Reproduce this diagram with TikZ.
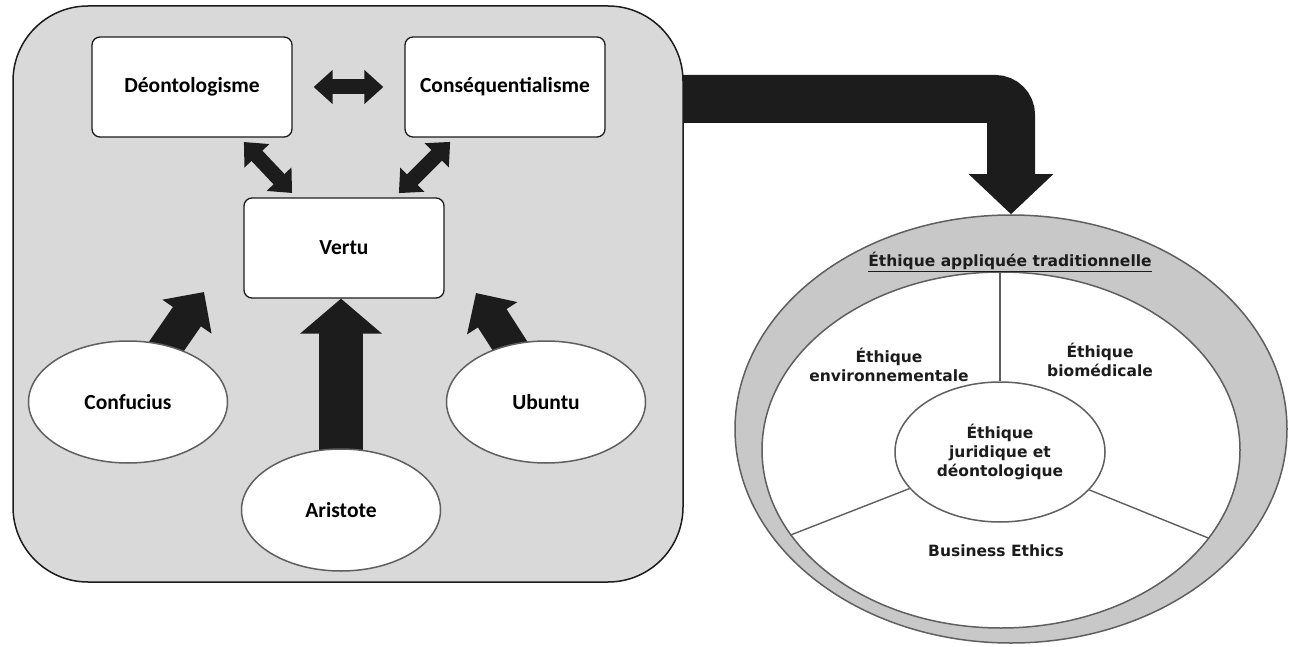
\documentclass[tikz,border=0pt]{standalone}
\usepackage{fontspec}
\setmainfont{Carlito}
\newfontfamily\ringfont{DejaVu Sans}
\usetikzlibrary{shapes.geometric,arrows.meta,calc}
\pgfdeclarelayer{bg}
\pgfdeclarelayer{arrowlayer}
\pgfsetlayers{bg,arrowlayer,main}

\definecolor{panelgray}{RGB}{217,217,217}
\definecolor{ringgray}{RGB}{200,200,200}
\definecolor{ink}{RGB}{28,28,28}
\definecolor{edgegray}{RGB}{95,95,95}

\begin{document}
\begin{tikzpicture}[x=1pt,y=-1pt,
  panelbox/.style={draw=ink, line width=1.5pt, fill=panelgray, rounded corners=75pt,
    minimum width=670pt, minimum height=576pt, inner sep=0pt},
  box/.style={draw=ink, line width=1.3pt, fill=white, rounded corners=8pt,
    minimum width=200pt, minimum height=100pt, inner sep=0pt,
    font=\bfseries\fontsize{21.5}{24}\selectfont},
  person/.style={ellipse, draw=edgegray, line width=1.5pt, fill=white,
    minimum width=199pt, minimum height=122pt, inner sep=0pt,
    font=\bfseries\fontsize{21.5}{24}\selectfont},
  dblarrow/.style={draw=ink, line width=15pt,
    {Triangle[width=33pt,length=19pt]}-{Triangle[width=33pt,length=19pt]}},
  fatarrow/.style={draw=ink, line width=34pt, -{Triangle[width=58pt,length=30pt]}},
  ringtext/.style={font=\ringfont\bfseries\fontsize{15.5}{19}\selectfont, text=ink, inner sep=0pt},
  divider/.style={draw=edgegray, line width=1.4pt}
]
\useasboundingbox (0,0) rectangle (1293,647);

% ---- applied ethics wheel ----
\node[ellipse, draw=edgegray, line width=1.5pt, fill=ringgray,
      minimum width=552pt, minimum height=428pt, inner sep=0pt] (ring) at (1011,429) {};
\node[ellipse, draw=edgegray, line width=1.5pt, fill=white,
      minimum width=478pt, minimum height=356pt, inner sep=0pt] (field) at (1001,450) {};
\node[ellipse, draw=edgegray, line width=1.5pt, fill=white,
      minimum width=210pt, minimum height=140pt, inner sep=0pt, align=center,
      ringtext] (core) at (1000,452) {Éthique\\juridique et\\déontologique};
\draw[divider] (core.north) -- (core.north |- field.north);
\draw[divider] (core.202) -- (field.202);
\draw[divider] (core.337) -- (field.337);
\node[ringtext] (title) at (1010,262) {\underline{Éthique appliquée traditionnelle}};
\node[ringtext, align=center] (env) at (889,365) {Éthique\\environnementale};
\node[ringtext, align=center] (bio) at (1100,360) {Éthique\\biomédicale};
\node[ringtext] (biz) at (996,551) {Business Ethics};

% ---- ethical theories panel ----
\coordinate (bandstart) at (670,99);
\begin{pgfonlayer}{bg}
  \draw[ink, line width=48pt, rounded corners=16pt,
        -{Triangle[width=82pt,length=40pt]}] (bandstart) -| (ring.north);
  \node[panelbox] (panel) at (348,294) {};
\end{pgfonlayer}

\node[box] (deon) at (192,87) {Déontologisme};
\node[box] (cons) at (505,87) {Conséquentialisme};
\node[box] (vertu) at (344,248) {Vertu};

\node[person] (conf) at (128,402) {Confucius};
\node[person] (ubu) at (546,402) {Ubuntu};
\node[person] (aris) at (341,510) {Aristote};

\coordinate (tipC) at (204,292);
\coordinate (tipU) at (476,293);

\begin{pgfonlayer}{arrowlayer}
  \draw[dblarrow, shorten <=21pt, shorten >=21pt] (deon) -- (cons);
  \draw[dblarrow, shorten <=6pt, shorten >=6pt] (deon) -- (vertu);
  \draw[dblarrow, shorten <=6pt, shorten >=6pt] (cons) -- (vertu);
  \draw[fatarrow] (conf.center) -- (tipC);
  \draw[fatarrow] (ubu.center) -- (tipU);
  \draw[draw=ink, line width=44pt, -{Triangle[width=80pt,length=35pt]}]
    (aris.center) -- (aris.center |- vertu.south);
\end{pgfonlayer}
\end{tikzpicture}
\end{document}
